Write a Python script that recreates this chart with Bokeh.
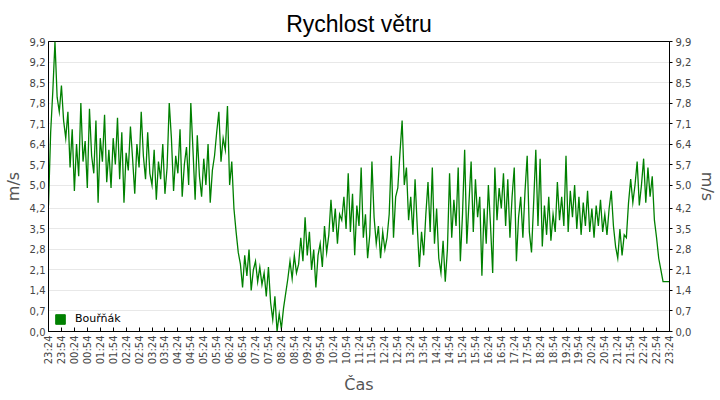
from bokeh.plotting import figure
from bokeh.models import LinearAxis, FixedTicker, Legend, LegendItem, Range1d, ColumnDataSource
from bokeh.embed import file_html
from bokeh.resources import INLINE
import math

# wind speed (m/s), one reading every 5 minutes starting 23:24
speed = [
    4.3, 6.8, 8.2, 9.9, 8.0, 7.5, 8.4, 7.2, 6.6, 7.5, 5.6, 6.9, 4.8, 6.4, 5.3,
    7.8, 5.8, 6.5, 4.9, 7.6, 6.0, 5.4, 7.2, 4.4, 6.6, 5.8, 7.4, 5.1, 6.2,
    4.9, 6.6, 5.7, 7.3, 5.2, 6.8, 4.4, 6.1, 5.5, 7.0, 5.9, 4.7, 6.4, 5.6, 7.5, 6.0, 5.2, 6.8, 5.4,
    5.0, 6.2, 4.5, 5.8, 5.2, 6.4, 4.7, 5.6,
    7.8,
    6.6, 4.8, 6.0, 5.4, 6.9, 4.6, 5.7, 6.3, 5.0, 7.8, 6.2, 4.5, 6.7, 5.3,
    4.6, 5.9, 5.0, 6.4, 4.4, 5.5, 6.0,
    6.8, 7.5, 5.8, 6.6, 6.2, 7.7,
    5.0, 5.8, 4.2, 3.4, 2.7,
    2.3, 1.5, 2.6, 1.9, 2.8, 1.4, 2.1, 2.4, 1.7, 2.2,
    1.6, 2.0, 1.2, 2.2,
    1.0, 0.4, 1.2,
    0.0, 0.6, 0.1, 0.8,
    1.3, 1.8,
    2.4, 1.8, 2.6, 2.0, 2.3,
    3.2, 2.4, 3.9, 2.6, 3.4,
    2.1, 2.8, 1.5, 2.6,
    3.0, 2.2, 3.6, 2.7, 3.3,
    4.5, 3.4, 4.2, 3.0, 4.0,
    3.8, 4.6, 3.5, 5.4,
    3.4, 4.7, 2.6, 4.3, 3.6,
    5.6, 3.2, 4.0, 2.5, 3.3, 5.8, 3.9,
    3.0, 3.6, 2.5, 3.4, 2.8, 3.2,
    4.0, 6.0, 3.2, 4.6, 4.9, 6.1,
    7.2, 5.0,
    5.6, 3.8, 4.6, 3.3, 5.2,
    3.6, 2.2, 3.4, 2.6, 4.0,
    5.1, 3.4, 5.6, 3.0, 4.2,
    2.5, 2.0, 3.1, 1.7, 2.8,
    5.4,
    3.2, 4.5, 3.6, 5.6,
    2.4, 4.0, 6.2, 3.0, 4.4,
    5.8, 3.4, 5.2, 3.9, 4.6,
    1.9, 4.2, 3.0, 5.0, 3.6, 2.0,
    5.6, 3.8, 4.9, 4.2, 5.4, 3.6,
    5.2, 3.2, 4.6, 5.6,
    2.4, 3.9,
    4.6, 3.2, 4.8, 6.0, 3.4,
    2.7, 4.4, 6.2, 3.6, 5.9,
    2.9, 4.3, 3.3,
    4.6, 3.1, 4.0, 3.4, 5.1,
    3.8, 4.6, 3.6, 6.0,
    3.4, 4.8, 3.9,
    5.0, 3.5, 4.6, 3.3, 4.4, 3.6, 4.8,
    3.4, 4.2, 3.2, 4.3, 3.6,
    4.5, 3.4, 4.0, 3.3, 4.2,
    4.8, 3.6, 2.9,
    2.5, 3.5, 2.6, 3.3,
    3.2,
    4.4, 5.2, 4.4,
    5.0, 5.8, 4.3,
    5.0, 5.9, 4.4,
    5.6, 4.6, 5.3,
    3.8, 3.2,
    2.5, 2.1,
    1.7, 1.7, 1.7, 1.7,
]
interval_min = 5
minutes = [i * interval_min for i in range(len(speed))]

time_labels = ["23:24", "23:54", "00:24", "00:54", "01:24", "01:54", "02:24", "02:54",
               "03:24", "03:54", "04:24", "04:54", "05:24", "05:54", "06:24", "06:54",
               "07:24", "07:54", "08:24", "08:54", "09:24", "09:54", "10:24", "10:54",
               "11:24", "11:54", "12:24", "12:54", "13:24", "13:54", "14:24", "14:54",
               "15:24", "15:54", "16:24", "16:54", "17:24", "17:54", "18:24", "18:54",
               "19:24", "19:54", "20:24", "20:54", "21:24", "21:54", "22:24", "22:54",
               "23:24"]
tick_minutes = [30 * i for i in range(len(time_labels))]

y_ticks = [0.0, 0.7, 1.4, 2.1, 2.8, 3.5, 4.2, 5.0, 5.7, 6.4, 7.1, 7.8, 8.5, 9.2, 9.9]
y_labels = ["0,0", "0,7", "1,4", "2,1", "2,8", "3,5", "4,2", "5,0", "5,7", "6,4",
            "7,1", "7,8", "8,5", "9,2", "9,9"]

series_name = "Bouřňák"
title_text = "Rychlost větru"
x_title = "Čas"
y_title = "m/s"

FONT = "DejaVu Sans"
GREEN = "#008000"

p = figure(width=720, height=400, output_backend="svg", toolbar_location=None,
           x_range=Range1d(0, 1440), y_range=Range1d(0, 9.9),
           min_border_left=48, min_border_right=49, min_border_top=41, min_border_bottom=69,
           background_fill_color="white", border_fill_color="white")

p.title.text = title_text
p.title.align = "center"
p.title.text_font = "Liberation Sans"
p.title.text_font_size = "23px"
p.title.text_font_style = "normal"
p.title.text_color = "#000000"

p.outline_line_color = "#000000"
p.outline_line_width = 1

p.xgrid.grid_line_color = None
p.ygrid.ticker = FixedTicker(ticks=y_ticks)
p.ygrid.grid_line_color = "#e8e8e8"
p.ygrid.grid_line_width = 1

src = ColumnDataSource(dict(minutes=minutes, speed=speed))
line = p.line(x="minutes", y="speed", source=src,
              line_color=GREEN, line_width=1.3, line_join="miter")

# legend swatch: an area glyph placed outside the visible range
swatch = p.quad(left=[-600], right=[-500], bottom=[-600], top=[-500],
                fill_color=GREEN, line_color=GREEN)
legend = Legend(items=[LegendItem(label=series_name, renderers=[swatch])],
                location="bottom_left", margin=6, padding=0, spacing=0,
                glyph_width=12, glyph_height=12, label_standoff=9,
                label_text_font=FONT, label_text_font_size="11px", label_text_color="#000000",
                label_height=12, border_line_color=None, background_fill_alpha=0)
p.add_layout(legend)

# x axis
xa = p.xaxis[0]
xa.ticker = FixedTicker(ticks=tick_minutes)
xa.major_label_overrides = {t: lab for t, lab in zip(tick_minutes, time_labels)}
xa.major_label_orientation = math.pi / 2
xa.major_label_text_font = FONT
xa.major_label_text_font_size = "10px"
xa.major_label_text_color = "#444444"
xa.major_tick_in = 4
xa.major_tick_out = 0
xa.minor_tick_line_color = None
xa.axis_line_color = "#000000"
xa.axis_label = x_title
xa.axis_label_text_font = FONT
xa.axis_label_text_font_size = "16px"
xa.axis_label_text_font_style = "normal"
xa.axis_label_text_color = "#555555"
xa.axis_label_standoff = 8
xa.major_label_standoff = 4

def style_y(ax, tick_out):
    ax.ticker = FixedTicker(ticks=y_ticks)
    ax.major_label_overrides = {t: lab for t, lab in zip(y_ticks, y_labels)}
    ax.major_label_text_font = FONT
    ax.major_label_text_font_size = "10px"
    ax.major_label_text_color = "#444444"
    ax.major_tick_in = 0
    ax.major_tick_out = tick_out
    ax.major_tick_line_color = "#000000"
    ax.minor_tick_line_color = None
    ax.axis_line_color = "#000000"
    ax.axis_label = y_title
    ax.axis_label_text_font = FONT
    ax.axis_label_text_font_size = "16px"
    ax.axis_label_text_font_style = "normal"
    ax.axis_label_text_color = "#555555"
    ax.axis_label_standoff = 4
    ax.major_label_standoff = 3

style_y(p.yaxis[0], 0)
ra = LinearAxis()
style_y(ra, 3)
p.add_layout(ra, "right")

open("out.html", "w").write(file_html(p, INLINE))
